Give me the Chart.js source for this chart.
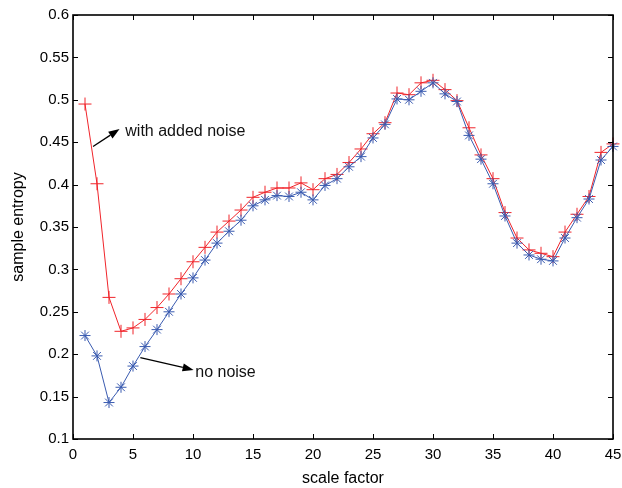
<!DOCTYPE html>
<html>
<head>
<meta charset="utf-8">
<script src="https://cdn.jsdelivr.net/npm/chart.js@4"></script>
<style>
  html, body { margin: 0; padding: 0; background: #fff; }
  #wrap { width: 622px; height: 488px; }
</style>
</head>
<body>
<div id="wrap"><canvas id="entropyChart"></canvas></div>
<script>
// scale factors 1..45
const scaleFactors = [1, 2, 3, 4, 5, 6, 7, 8, 9, 10, 11, 12, 13, 14, 15,
    16, 17, 18, 19, 20, 21, 22, 23, 24, 25, 26, 27, 28, 29, 30,
    31, 32, 33, 34, 35, 36, 37, 38, 39, 40, 41, 42, 43, 44, 45];

// sample entropy, signal with added noise (red +)
const withNoise = [0.495, 0.401, 0.267, 0.227, 0.231, 0.241, 0.255, 0.271, 0.289, 0.309,
    0.326, 0.344, 0.357, 0.370, 0.385, 0.391, 0.396, 0.396, 0.402, 0.394,
    0.407, 0.412, 0.426, 0.442, 0.460, 0.473, 0.508, 0.506, 0.520, 0.523,
    0.512, 0.499, 0.467, 0.435, 0.407, 0.367, 0.337, 0.323, 0.319, 0.315,
    0.344, 0.365, 0.386, 0.438, 0.448];

// sample entropy, clean signal (blue *)
const noNoise = [0.222, 0.198, 0.143, 0.161, 0.186, 0.209, 0.229, 0.250, 0.271, 0.290,
    0.311, 0.331, 0.345, 0.358, 0.375, 0.382, 0.387, 0.386, 0.391, 0.382,
    0.399, 0.407, 0.421, 0.433, 0.455, 0.471, 0.501, 0.500, 0.510, 0.520,
    0.507, 0.498, 0.458, 0.430, 0.401, 0.363, 0.331, 0.317, 0.312, 0.310,
    0.337, 0.361, 0.383, 0.429, 0.445];

const xTicks = [0, 5, 10, 15, 20, 25, 30, 35, 40, 45];
const yTicks = [0.1, 0.15, 0.2, 0.25, 0.3, 0.35, 0.4, 0.45, 0.5, 0.55, 0.6];
const yTickLabels = ['0.1', '0.15', '0.2', '0.25', '0.3', '0.35', '0.4', '0.45', '0.5', '0.55', '0.6'];

// text arrows, in data units
const notes = [
    { text: 'with added noise', from: [1.67, 0.445], to: [3.88, 0.4655], at: [4.36, 0.4627] },
    { text: 'no noise', from: [5.61, 0.196], to: [10.05, 0.1815], at: [10.19, 0.1785] }
];

const FONT = '"Liberation Sans", Arial, Helvetica, sans-serif';

function toPoints(ys) {
    return scaleFactors.map((x, i) => ({ x: x, y: ys[i] }));
}

// box with inward ticks, like matlab axes
const matlabFrame = {
    id: 'matlabFrame',
    afterDatasetsDraw(chart) {
        const { ctx, chartArea: a, scales: { x, y } } = chart;
        ctx.save();
        ctx.strokeStyle = '#000';
        ctx.lineWidth = 1;
        ctx.beginPath();
        xTicks.forEach(v => {
            const px = Math.round(x.getPixelForValue(v)) + 0.5;
            ctx.moveTo(px, a.bottom); ctx.lineTo(px, a.bottom - 5);
            ctx.moveTo(px, a.top); ctx.lineTo(px, a.top + 5);
        });
        yTicks.forEach(v => {
            const py = Math.round(y.getPixelForValue(v)) + 0.5;
            ctx.moveTo(a.left, py); ctx.lineTo(a.left + 5, py);
            ctx.moveTo(a.right, py); ctx.lineTo(a.right - 5, py);
        });
        ctx.stroke();
        ctx.lineWidth = 1.6;
        ctx.strokeRect(a.left, a.top, a.right - a.left, a.bottom - a.top);
        ctx.restore();
    }
};

const arrowNotes = {
    id: 'arrowNotes',
    afterDraw(chart) {
        const { ctx, scales: { x, y } } = chart;
        ctx.save();
        notes.forEach(n => {
            const x0 = x.getPixelForValue(n.from[0]), y0 = y.getPixelForValue(n.from[1]);
            const x1 = x.getPixelForValue(n.to[0]), y1 = y.getPixelForValue(n.to[1]);
            const ang = Math.atan2(y1 - y0, x1 - x0);
            const len = 11, half = 4;
            const bx = x1 - len * Math.cos(ang), by = y1 - len * Math.sin(ang);
            ctx.strokeStyle = '#000';
            ctx.fillStyle = '#000';
            ctx.lineWidth = 1.3;
            ctx.beginPath();
            ctx.moveTo(x0, y0);
            ctx.lineTo(bx, by);
            ctx.stroke();
            ctx.beginPath();
            ctx.moveTo(x1, y1);
            ctx.lineTo(bx + half * Math.sin(ang), by - half * Math.cos(ang));
            ctx.lineTo(bx - half * Math.sin(ang), by + half * Math.cos(ang));
            ctx.closePath();
            ctx.fill();

            ctx.font = '16px ' + FONT;
            ctx.fillStyle = '#111';
            ctx.textAlign = 'left';
            ctx.textBaseline = 'middle';
            ctx.fillText(n.text, x.getPixelForValue(n.at[0]), y.getPixelForValue(n.at[1]));
        });
        ctx.restore();
    }
};

new Chart(document.getElementById('entropyChart'), {
    type: 'line',
    data: {
        datasets: [{
            label: 'no noise',
            data: toPoints(noNoise),
            borderColor: '#3a5bb0',
            borderWidth: 1,
            pointStyle: 'star',
            pointRadius: 5.5,
            pointBorderColor: '#3a5bb0',
            pointBorderWidth: 1,
            pointBackgroundColor: '#3a5bb0',
            tension: 0,
            clip: false
        }, {
            label: 'with added noise',
            data: toPoints(withNoise),
            borderColor: '#f0242a',
            borderWidth: 1,
            pointStyle: 'cross',
            pointRadius: 6.5,
            pointBorderColor: '#f0242a',
            pointBorderWidth: 1,
            tension: 0,
            clip: false
        }]
    },
    options: {
        responsive: true,
        maintainAspectRatio: false,
        animation: false,
        layout: { padding: { left: 0, right: 9, top: 15, bottom: 0 } },
        plugins: {
            legend: { display: false },
            tooltip: { enabled: false }
        },
        scales: {
            x: {
                type: 'linear',
                min: 0,
                max: 45,
                afterBuildTicks: scale => { scale.ticks = xTicks.map(v => ({ value: v })); },
                afterFit: scale => { scale.height = 49; scale.paddingLeft = 0; scale.paddingRight = 0; },
                grid: { display: false, drawTicks: false, tickLength: 0 },
                border: { display: false },
                ticks: {
                    color: '#000',
                    padding: 7,
                    maxRotation: 0,
                    font: { family: FONT, size: 15 },
                    callback: v => String(v)
                },
                title: {
                    display: true,
                    text: 'scale factor',
                    color: '#000',
                    font: { family: FONT, size: 16 },
                    padding: { top: 0, bottom: 0 }
                }
            },
            y: {
                min: 0.1,
                max: 0.6,
                afterBuildTicks: scale => { scale.ticks = yTicks.map(v => ({ value: v })); },
                afterFit: scale => { scale.width = 73; scale.paddingTop = 0; scale.paddingBottom = 0; },
                grid: { display: false, drawTicks: false, tickLength: 0 },
                border: { display: false },
                ticks: {
                    color: '#000',
                    padding: 4,
                    font: { family: FONT, size: 15 },
                    callback: (v, i) => yTickLabels[i]
                },
                title: {
                    display: true,
                    text: 'sample entropy',
                    color: '#000',
                    font: { family: FONT, size: 16 },
                    padding: { top: 9, bottom: 0 }
                }
            }
        }
    },
    plugins: [matlabFrame, arrowNotes]
});
</script>
</body>
</html>
